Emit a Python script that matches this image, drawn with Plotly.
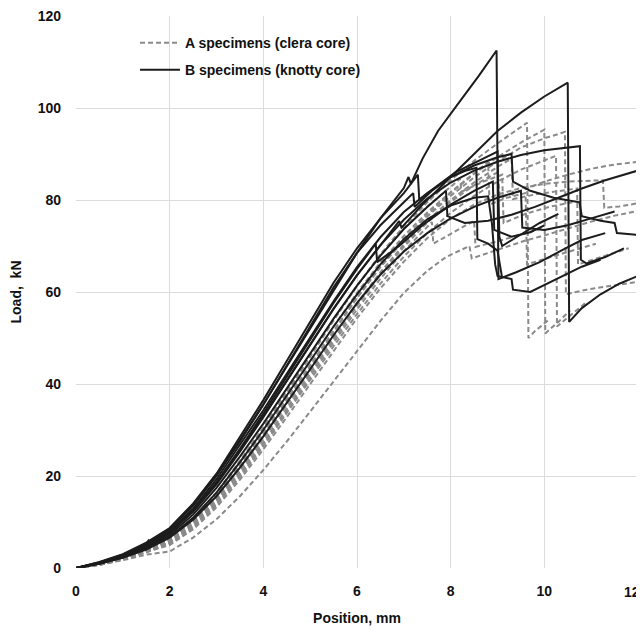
import plotly.graph_objects as go

# ---------------- A specimens (clear core) : grey dashed ----------------
a1_x = [0, 0.5, 1.0, 1.5, 2.0, 2.5, 3.0, 3.5, 4.0, 4.5, 5.0, 5.5, 6.0, 6.5, 7.0, 7.5, 8.0, 8.5, 9.0, 9.3, 9.63, 9.66, 9.8, 10.1]
a1_y = [0, 0.9, 2.2, 4.1, 6.5, 10.5, 16.2, 23.0, 30.2, 38.0, 45.8, 53.8, 61.3, 68.2, 74.3, 79.5, 84.3, 88.5, 92.3, 94.5, 96.8, 50.0, 51.5, 54.0]

a2_x = [0, 0.5, 1.0, 1.5, 2.0, 2.5, 3.0, 3.5, 4.0, 4.5, 5.0, 5.5, 6.0, 6.5, 7.0, 7.5, 8.0, 8.5, 9.0, 9.5, 10.0, 10.02, 10.3, 10.55]
a2_y = [0, 0.8, 2.0, 3.8, 6.0, 9.7, 15.0, 21.5, 28.5, 36.0, 43.6, 51.3, 58.7, 65.5, 71.5, 76.8, 81.5, 85.7, 89.3, 92.5, 95.3, 51.0, 53.5, 56.0]

a3_x = [0, 0.5, 1.0, 1.5, 2.0, 2.5, 3.0, 3.5, 4.0, 4.5, 5.0, 5.5, 6.0, 6.5, 7.0, 7.5, 8.0, 8.5, 9.0, 9.5, 10.0, 10.44, 10.46, 10.9, 11.4, 12.0]
a3_y = [0, 0.8, 2.1, 3.9, 6.2, 10.0, 15.5, 22.0, 29.0, 36.5, 44.0, 51.6, 58.8, 65.4, 71.2, 76.4, 80.9, 84.9, 88.4, 91.4, 93.4, 94.8, 59.5, 60.5, 61.3, 62.2]

a4_x = [0, 0.5, 1.0, 1.5, 2.0, 2.5, 3.0, 3.5, 4.0, 4.5, 5.0, 5.5, 6.0, 6.5, 7.0, 7.5, 8.0, 8.5, 9.0, 9.05, 9.5, 10.0, 10.5, 11.0, 11.5, 12.0]
a4_y = [0, 0.8, 2.0, 3.7, 5.6, 9.2, 14.3, 20.5, 27.3, 34.6, 42.2, 49.7, 57.0, 63.8, 69.8, 75.1, 79.6, 83.2, 86.0, 80.5, 82.0, 84.0, 85.5, 86.8, 87.7, 88.3]

a5_x = [0, 0.5, 1.0, 1.5, 2.0, 2.5, 3.0, 3.5, 4.0, 4.5, 5.0, 5.5, 6.0, 6.5, 7.0, 7.5, 8.0, 8.5, 9.0, 9.5, 10.0, 10.5, 11.0, 11.25, 11.28, 11.6, 12.0]
a5_y = [0, 0.7, 1.9, 3.5, 5.0, 8.4, 13.2, 19.2, 25.8, 32.8, 40.0, 47.3, 54.3, 60.8, 66.6, 71.7, 75.9, 79.0, 81.2, 82.6, 83.5, 84.0, 84.2, 84.3, 78.3, 78.6, 79.3]

a6_x = [0, 0.5, 1.0, 1.5, 2.0, 2.5, 3.0, 3.5, 4.0, 4.5, 5.0, 5.5, 6.0, 6.5, 7.0, 7.5, 7.9, 8.4, 8.45, 8.9, 9.3, 9.6, 10.0, 10.5, 11.0, 11.5, 12.0]
a6_y = [0, 0.7, 1.7, 2.9, 3.6, 6.6, 10.6, 15.6, 21.3, 27.5, 34.0, 40.5, 47.2, 53.7, 59.8, 64.6, 67.6, 70.0, 67.3, 68.8, 70.2, 71.2, 72.3, 73.8, 75.3, 76.6, 77.6]

a7_x = [0, 0.5, 1.0, 1.5, 2.0, 2.5, 3.0, 3.5, 4.0, 4.5, 5.0, 5.5, 6.0, 6.5, 7.0, 7.5, 8.0, 8.5, 9.0, 9.3, 9.33, 9.8, 10.3, 10.7, 10.72, 11.2, 11.8]
a7_y = [0, 0.8, 2.0, 3.8, 5.8, 9.4, 14.6, 21.0, 28.0, 35.4, 42.9, 50.4, 57.6, 64.3, 70.3, 75.5, 80.0, 83.8, 87.2, 89.0, 80.2, 81.2, 82.0, 82.5, 66.0, 67.5, 69.5]

a8_x = [0, 0.5, 1.0, 1.5, 2.0, 2.5, 3.0, 3.5, 4.0, 4.5, 5.0, 5.5, 6.0, 6.5, 7.0, 7.5, 8.0, 8.4, 8.8, 8.83, 9.2, 9.6, 9.63, 10.1, 10.6, 11.1]
a8_y = [0, 0.8, 2.1, 3.9, 6.3, 10.2, 15.8, 22.5, 29.6, 37.2, 44.9, 52.5, 59.8, 66.4, 72.2, 77.3, 81.7, 85.0, 88.3, 79.0, 80.5, 81.5, 66.0, 67.5, 69.0, 70.5]

a9_x = [0, 0.5, 1.0, 1.5, 2.0, 2.5, 3.0, 3.5, 4.0, 4.5, 5.0, 5.5, 6.0, 6.5, 7.0, 7.5, 8.2, 8.23, 8.7, 9.1, 9.13, 9.6, 10.1, 10.6]
a9_y = [0, 0.9, 2.2, 4.1, 6.6, 10.7, 16.4, 23.3, 30.6, 38.4, 46.2, 54.0, 61.4, 68.0, 73.8, 78.6, 84.6, 81.8, 84.0, 85.5, 75.0, 77.0, 78.5, 79.5]

a10_x = [0, 0.5, 1.0, 1.5, 2.0, 2.5, 3.0, 3.5, 4.0, 4.5, 5.0, 5.5, 6.0, 6.5, 7.0, 7.5, 8.0, 8.5, 9.0, 9.5, 10.0, 10.25, 10.27, 10.6, 10.9]
a10_y = [0, 0.7, 1.8, 3.4, 5.3, 8.7, 13.7, 19.8, 26.5, 33.6, 40.9, 48.2, 55.2, 61.8, 67.7, 72.8, 77.2, 80.9, 84.0, 86.6, 88.7, 89.6, 52.5, 55.3, 57.8]

a11_x = [0, 0.5, 1.0, 1.5, 2.0, 2.5, 3.0, 3.5, 4.0, 4.5, 5.0, 5.5, 6.0, 6.5, 7.0, 7.6, 7.63, 8.1, 8.5, 8.53, 9.0, 9.5, 10.0]
a11_y = [0, 0.8, 2.0, 3.6, 5.4, 8.9, 13.9, 20.0, 26.8, 34.0, 41.5, 49.0, 56.2, 62.9, 68.9, 75.2, 70.5, 73.2, 75.5, 69.8, 71.0, 72.5, 74.0]

# ---------------- B specimens (knotty core) : black solid ----------------
b1_x = [0, 0.5, 1.0, 1.5, 1.55, 1.65, 2.0, 2.5, 3.0, 3.5, 4.0, 4.5, 5.0, 5.5, 6.0, 6.5, 7.0, 7.1, 7.15, 7.4, 7.73, 8.2, 8.6, 8.98, 9.02, 9.4, 9.9, 10.4, 10.8, 11.3]
b1_y = [0, 1.2, 2.8, 5.0, 6.0, 5.4, 8.6, 13.8, 20.3, 27.8, 35.6, 43.8, 52.2, 60.5, 68.5, 76.0, 82.6, 85.0, 83.5, 89.0, 95.0, 101.5, 107.0, 112.5, 62.8, 64.3, 66.5, 69.2, 71.3, 72.8]

b2_x = [0, 0.5, 1.0, 1.5, 2.0, 2.5, 3.0, 3.5, 4.0, 4.5, 5.0, 5.5, 6.0, 6.5, 6.9, 6.95, 7.4, 8.0, 8.5, 9.0, 9.5, 10.0, 10.5, 10.53, 10.8, 11.2, 11.6, 12.0]
b2_y = [0, 1.0, 2.5, 4.5, 7.6, 12.2, 18.2, 25.3, 32.8, 40.6, 48.5, 56.3, 63.6, 70.3, 75.4, 74.0, 79.0, 85.0, 90.0, 95.0, 99.0, 102.5, 105.5, 53.5, 56.5, 59.5, 61.8, 63.5]

b3_x = [0, 0.5, 1.0, 1.5, 2.0, 2.5, 3.0, 3.5, 4.0, 4.5, 5.0, 5.5, 6.0, 6.5, 7.0, 7.5, 8.0, 8.5, 9.0, 9.5, 10.0, 10.4, 10.76, 10.78, 10.9, 11.3, 11.7]
b3_y = [0, 1.1, 2.6, 4.7, 7.8, 12.5, 18.6, 25.6, 33.0, 40.8, 48.6, 56.4, 63.7, 70.2, 75.7, 80.3, 83.8, 86.4, 88.3, 89.8, 90.8, 91.3, 91.7, 67.0, 66.2, 67.6, 69.5]

b4_x = [0, 0.5, 1.0, 1.5, 2.0, 2.5, 3.0, 3.5, 4.0, 4.5, 5.0, 5.5, 6.0, 6.5, 7.0, 7.5, 7.9, 7.93, 8.3, 8.8, 9.3, 9.8, 10.3, 10.8, 11.3, 11.8, 12.0]
b4_y = [0, 1.0, 2.4, 4.4, 7.2, 11.6, 17.4, 24.2, 31.4, 39.0, 46.6, 54.2, 61.4, 67.9, 73.7, 78.5, 82.0, 76.5, 75.0, 75.5, 76.8, 78.5, 80.5, 82.5, 84.3, 85.8, 86.4]

b5_x = [0, 0.5, 1.0, 1.5, 2.0, 2.5, 3.0, 3.5, 4.0, 4.5, 5.0, 5.5, 6.0, 6.5, 7.0, 7.5, 8.0, 8.5, 9.0, 9.3, 9.33, 9.7, 10.2, 10.75, 10.8, 11.0, 11.2, 11.5, 11.55, 12.0]
b5_y = [0, 1.1, 2.7, 4.9, 8.0, 12.9, 19.3, 26.8, 34.3, 42.2, 50.1, 58.0, 65.4, 71.9, 77.4, 81.5, 85.0, 87.5, 89.3, 90.0, 84.0, 82.0, 80.5, 79.5, 76.5, 76.0, 75.5, 75.0, 72.8, 72.4]

b6_x = [0, 0.5, 1.0, 1.5, 2.0, 2.5, 3.0, 3.5, 4.0, 4.5, 5.0, 5.5, 6.0, 6.5, 7.0, 7.5, 8.0, 8.5, 8.8, 8.88, 8.95, 9.0, 9.3, 9.33, 9.7, 10.2, 10.8, 11.2]
b6_y = [0, 0.9, 2.3, 4.2, 6.8, 10.9, 16.4, 23.0, 30.0, 37.5, 45.0, 52.5, 59.5, 66.0, 71.5, 75.8, 78.8, 80.5, 80.8, 75.0, 66.0, 63.5, 62.8, 60.5, 60.0, 62.5, 65.5, 67.0]

b7_x = [0, 0.5, 1.0, 1.5, 2.0, 2.5, 3.0, 3.5, 4.0, 4.5, 5.0, 5.5, 6.0, 6.5, 7.0, 7.2, 7.23, 7.6, 8.0, 8.3, 8.55, 8.57, 8.8, 9.0, 9.05, 9.1]
b7_y = [0, 1.2, 2.9, 5.2, 8.4, 13.5, 20.0, 27.5, 35.5, 44.0, 52.5, 61.0, 68.5, 74.5, 79.5, 81.5, 78.5, 82.0, 85.0, 86.3, 87.0, 71.5, 70.5, 69.0, 66.0, 63.0]

b8_x = [0, 0.5, 1.0, 1.5, 2.0, 2.5, 3.0, 3.5, 4.0, 4.5, 5.0, 5.5, 6.0, 6.5, 7.0, 7.3, 7.33, 7.7, 8.1, 8.5, 9.0, 9.04, 9.1, 9.5, 9.9, 10.3]
b8_y = [0, 1.3, 3.0, 5.5, 8.7, 14.0, 20.5, 28.5, 36.5, 45.0, 53.5, 62.0, 69.5, 76.0, 81.5, 85.5, 80.0, 83.0, 86.0, 88.0, 90.5, 72.0, 70.0, 72.5, 75.0, 77.0]

b9_x = [0, 0.5, 1.0, 1.5, 2.0, 2.5, 3.0, 3.5, 4.0, 4.5, 5.0, 5.5, 6.0, 6.4, 6.43, 6.9, 7.4, 8.0, 8.5, 8.9, 8.93, 9.3, 9.7, 10.0]
b9_y = [0, 1.0, 2.6, 4.8, 7.7, 12.4, 18.6, 25.9, 33.6, 41.6, 49.6, 57.6, 65.0, 70.5, 66.5, 70.0, 74.5, 79.0, 82.0, 84.0, 73.5, 72.0, 73.0, 74.5]

b10_x = [0, 0.5, 1.0, 1.5, 2.0, 2.5, 3.0, 3.5, 4.0, 4.5, 5.0, 5.5, 6.0, 6.5, 7.0, 7.5, 8.0, 8.5, 9.0, 9.5, 9.53, 10.0, 10.5, 11.0, 11.5]
b10_y = [0, 0.9, 2.2, 4.0, 6.6, 10.5, 15.6, 21.8, 28.6, 35.8, 43.2, 50.6, 57.6, 63.8, 68.8, 72.8, 76.0, 78.5, 80.5, 82.0, 74.0, 73.5, 74.5, 76.0, 77.5]

a_series = [(a1_x, a1_y), (a2_x, a2_y), (a3_x, a3_y), (a4_x, a4_y), (a5_x, a5_y),
            (a6_x, a6_y), (a7_x, a7_y), (a8_x, a8_y), (a9_x, a9_y), (a10_x, a10_y),
            (a11_x, a11_y)]
b_series = [(b1_x, b1_y), (b2_x, b2_y), (b3_x, b3_y), (b4_x, b4_y), (b5_x, b5_y),
            (b6_x, b6_y), (b7_x, b7_y), (b8_x, b8_y), (b9_x, b9_y), (b10_x, b10_y)]

legend_a = "A specimens (clera core)"
legend_b = "B specimens (knotty core)"

x_ticks = [0, 2, 4, 6, 8, 10, 12]
y_ticks = [0, 20, 40, 60, 80, 100, 120]

FONT = "Liberation Sans, Arial, sans-serif"
TICKFONT = dict(family=FONT, size=14, color="#111111", weight="bold")

fig = go.Figure()

for i, (xs, ys) in enumerate(a_series):
    fig.add_trace(go.Scatter(
        x=xs, y=ys, mode="lines", name=legend_a, legendgroup="A",
        showlegend=(i == 0),
        line=dict(color="#8a8a8a", width=2, dash="5px,3px"),
    ))

for i, (xs, ys) in enumerate(b_series):
    fig.add_trace(go.Scatter(
        x=xs, y=ys, mode="lines", name=legend_b, legendgroup="B",
        showlegend=(i == 0),
        line=dict(color="#1c1c1c", width=2),
    ))

# the last x tick label sits at the right edge of the page; draw it nudged inward
x_ticktext = [str(v) for v in x_ticks[:-1]] + [""]
fig.add_annotation(
    x=1, y=-0.0435, xref="paper", yref="paper", text=str(x_ticks[-1]),
    showarrow=False, xanchor="right", yanchor="middle", xshift=4,
    font=TICKFONT,
)

# page body has an 8px default margin, so the figure is 8px smaller than the window
fig.update_layout(
    width=636, height=621,
    margin=dict(l=68, r=6, t=8, b=61, autoexpand=False),
    paper_bgcolor="white", plot_bgcolor="white",
    font=dict(family=FONT, color="#222222", size=13),
    legend=dict(
        x=0.105, y=0.98, xanchor="left", yanchor="top",
        bgcolor="rgba(255,255,255,0)", borderwidth=0,
        font=dict(family=FONT, size=14, color="#111111", weight="bold"),
        tracegroupgap=6, itemwidth=40,
    ),
    showlegend=True,
)

fig.update_xaxes(
    range=[0, 12], tickvals=x_ticks, ticktext=x_ticktext,
    showgrid=True, gridcolor="#dcdcdc", gridwidth=1,
    zeroline=False, showline=False, ticks="", automargin=False,
    ticklabeloverflow="allow",
    tickfont=TICKFONT,
    ticklabelstandoff=13,
    title=dict(text="Position, mm", font=dict(family=FONT, size=14, color="#111111", weight="bold"), standoff=15),
)
fig.update_yaxes(
    range=[0, 120], tickvals=y_ticks, ticktext=[str(v) for v in y_ticks],
    showgrid=True, gridcolor="#dcdcdc", gridwidth=1,
    zeroline=False, showline=False, ticks="", automargin=False,
    ticklabeloverflow="allow",
    tickfont=TICKFONT,
    ticklabelstandoff=14,
    title=dict(text="Load,  kN", font=dict(family=FONT, size=14, color="#111111", weight="bold"), standoff=14),
)

fig.write_html("out.html")
